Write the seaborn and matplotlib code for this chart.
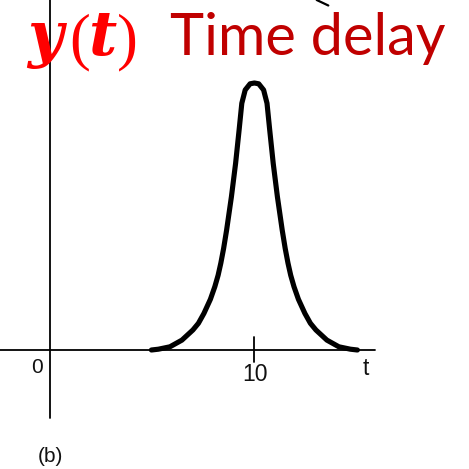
import matplotlib
matplotlib.use("Agg")
import matplotlib.pyplot as plt
from matplotlib.lines import Line2D
import pandas as pd
import seaborn as sns

# Pulse y(t) delayed to t = 10
t_vals = [4.971, 5.314, 5.878, 6.466, 7.005, 7.275, 7.545, 7.863, 8.079, 8.241,
          8.373, 8.510, 8.657, 8.893, 9.098, 9.270, 9.402, 9.569, 9.809, 10.02,
          10.231, 10.471, 10.638, 10.770, 10.942, 11.147, 11.383, 11.530, 11.667,
          11.799, 11.961, 12.177, 12.495, 12.765, 13.035, 13.574, 14.162, 14.726,
          15.069]
y_vals = [0.0, 0.003, 0.012, 0.037, 0.075, 0.100, 0.137, 0.190, 0.237, 0.280,
          0.325, 0.380, 0.449, 0.574, 0.699, 0.824, 0.924, 0.974, 0.997, 1.0,
          0.997, 0.974, 0.924, 0.824, 0.699, 0.574, 0.449, 0.380, 0.325,
          0.280, 0.237, 0.190, 0.137, 0.100, 0.075, 0.037, 0.012, 0.003,
          0.0]

tick_positions = [10]
tick_labels = ["10"]
origin_label = "0"
axis_name = "t"
title_text = "Time delay"
panel_label = "(b)"

W = H = 469
sns.set_theme(style="white")
plt.rcParams["font.family"] = ["Liberation Sans", "DejaVu Sans"]

fig = plt.figure(figsize=(W / 100, H / 100), dpi=100)
ax = fig.add_axes([0, 0, 1, 1])
ax.set_axis_off()

# data range: t=0 at x=50px, t=10 at x=254px; y=0 at 350px, y=1 at 83px
px_per_t = 20.4
px_per_y = 267.0
x0_px, y0_px = 50.0, 350.0
ax.set_xlim(-x0_px / px_per_t, (W - x0_px) / px_per_t)
ax.set_ylim(-(H - y0_px) / px_per_y, y0_px / px_per_y)

def px(x, y):
    return x / W, 1 - y / H

# axes
ax.plot([-x0_px / px_per_t, (375 - x0_px) / px_per_t], [0, 0], color="black", lw=1.3, zorder=2)
ax.plot([0, 0], [(y0_px - 418) / px_per_y, y0_px / px_per_y], color="black", lw=1.3, zorder=4)
for tp in tick_positions:
    ax.plot([tp, tp], [(y0_px - 362) / px_per_y, (y0_px - 337) / px_per_y],
            color="black", lw=1.3, zorder=2)

df = pd.DataFrame({"t": t_vals, "y": y_vals})
sns.lineplot(data=df, x="t", y="y", ax=ax, color="black", lw=3.7, sort=False,
             solid_joinstyle="round", solid_capstyle="round", zorder=3)

# tick and axis labels
fig.text(*px(36.7, 367.5), origin_label, ha="center", va="center", fontsize=15, color="#111111")
for lab in tick_labels:
    fig.text(*px(255, 374.7), lab, ha="center", va="center", fontsize=16.5, color="#111111")
fig.text(*px(365.8, 368.7), axis_name, ha="center", va="center", fontsize=16.5, color="#111111")
fig.text(*px(50.5, 456.7), panel_label, ha="center", va="center", fontsize=15, color="#111111")

# heading: math-style y(t) with bold italic symbols and upright parentheses
red = "#FF0000"
sym = dict(fontsize=44, color=red, fontweight="bold", fontstyle="italic",
           family=["DejaVu Serif"], ha="left", va="baseline")
par = dict(fontsize=45, color=red, family=["Liberation Serif"], ha="left", va="baseline")
fig.text(*px(27, 55), "y", **sym)
fig.text(*px(69, 57), "(", **par)
fig.text(*px(88, 55), "t", **sym)
fig.text(*px(117, 57), ")", **par)

fig.text(*px(170, 55), title_text, ha="left", va="baseline", fontsize=41.5,
         color="#C00000", family=["Lato", "DejaVu Sans"])

# stray arrow stroke at the top edge
fig.add_artist(Line2D([316.7 / W, 328.3 / W], [1 - 0 / H, 1 - 5.5 / H],
                      transform=fig.transFigure, color="black", lw=1.6))

fig.savefig("out.png", dpi=100)
